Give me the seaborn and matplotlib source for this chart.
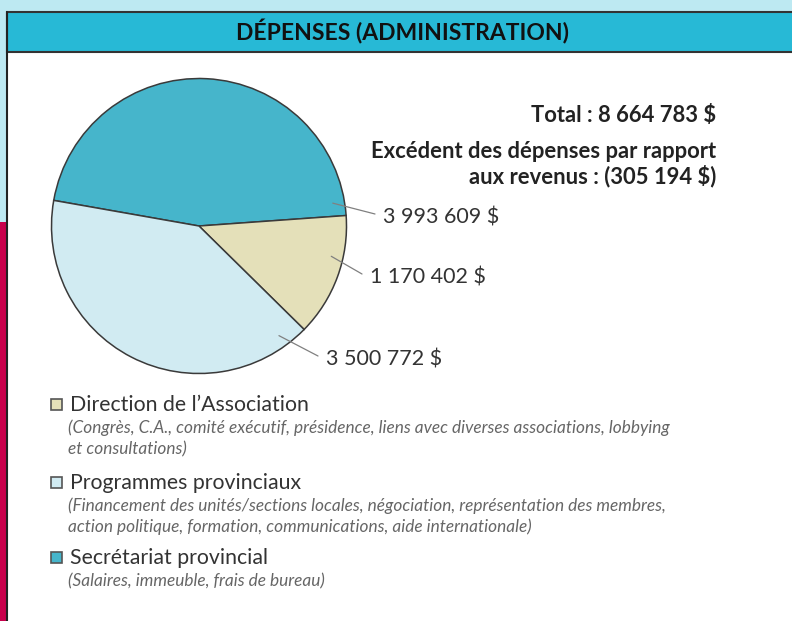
import matplotlib
matplotlib.use("Agg")
import matplotlib.pyplot as plt
import seaborn as sns
import numpy as np
from matplotlib.patches import Rectangle

# ---- data ----
categories = ["Secrétariat provincial", "Direction de l\u2019Association", "Programmes provinciaux"]
values = [3993609, 1170402, 3500772]
value_labels = ["3 993 609 $", "1 170 402 $", "3 500 772 $"]
colors = ["#46b5cb", "#e4e0b9", "#d1ebf2"]
legend_order = [1, 2, 0]
legend_notes = [
    ["(Salaires, immeuble, frais de bureau)"],
    ["(Congrès, C.A., comité exécutif, présidence, liens avec diverses associations, lobbying",
     "et consultations)"],
    ["(Financement des unités/sections locales, négociation, représentation des membres,",
     "action politique, formation, communications, aide internationale)"],
]
title = "DÉPENSES (ADMINISTRATION)"
total_text = "Total : 8 664 783 $"
excess_text = "Excédent des dépenses par rapport\naux revenus : (305 194 $)"

sns.set_theme(style="white")
plt.rcParams['font.family'] = ['Lato', 'DejaVu Sans']

W, H = 792, 621
fig = plt.figure(figsize=(W / 100, H / 100), dpi=100)
fig.patch.set_facecolor("white")

# background / frame decorations (pixel coordinates)
bg = fig.add_axes([0, 0, 1, 1], zorder=0)
bg.set_xlim(0, W); bg.set_ylim(H, 0); bg.axis("off")
bg.add_patch(Rectangle((0, 0), W, 12, facecolor="#bde9f2", edgecolor="none"))
bg.add_patch(Rectangle((0, 0), 7, 222, facecolor="#bde9f2", edgecolor="none"))
bg.add_patch(Rectangle((0, 222), 7, H - 222, facecolor="#c8004b", edgecolor="none"))
bg.add_patch(Rectangle((7, 12), W, 40, facecolor="#27b9d6", edgecolor="#333333", linewidth=1.5))
bg.plot([7, 7], [12, H], color="#222222", lw=1.5)
bg.text(402, 32, title, ha="center", va="center", fontsize=16.5, fontweight="bold", color="#111111")

# pie
cx, cy, R = 199, 226, 147.5
pax = fig.add_axes([(cx - R) / W, (H - cy - R) / H, 2 * R / W, 2 * R / H], zorder=1)
wedges, _ = pax.pie(values, colors=colors, startangle=170, counterclock=False,
                    wedgeprops=dict(edgecolor="#3a3a3a", linewidth=1.1))
for w in wedges:
    w.set_clip_on(False)
pax.set_xlim(-1, 1); pax.set_ylim(-1, 1)
pax.axis("off")

# overlay for labels
ov = fig.add_axes([0, 0, 1, 1], zorder=2)
ov.set_xlim(0, W); ov.set_ylim(H, 0); ov.axis("off"); ov.patch.set_alpha(0)

anchor_angles = [9.7, -12.9, -53.9]
anchor_r = 0.92
text_pos = [(383, 217), (370, 277), (326, 359)]
for lab, ang, (tx, ty) in zip(value_labels, anchor_angles, text_pos):
    a = np.deg2rad(ang)
    x0 = cx + anchor_r * R * np.cos(a)
    y0 = cy - anchor_r * R * np.sin(a)
    ov.plot([x0, tx - 8], [y0, ty - 3], color="#808080", lw=0.9)
    ov.text(tx, ty, lab, ha="left", va="center", fontsize=15.5, color="#333333")

ov.text(716, 115, total_text, ha="right", va="center", fontsize=15.8, fontweight="bold", color="#222222")
ov.text(716, 164, excess_text, ha="right", va="center", fontsize=15.8, fontweight="bold",
        color="#222222", linespacing=1.15)

# legend
leg_y = [405, 483, 558]
for i, y in zip(legend_order, leg_y):
    ov.add_patch(Rectangle((51, y - 6), 11, 11, facecolor=colors[i], edgecolor="#555555", lw=1.2))
    ov.text(70, y, categories[i], ha="left", va="center", fontsize=15.3, color="#333333")
    for k, line in enumerate(legend_notes[i]):
        ov.text(68, y + 23 + 21 * k, line, ha="left", va="center", fontsize=12.4, style="italic",
                color="#666666")

fig.savefig("out.png", dpi=100)
